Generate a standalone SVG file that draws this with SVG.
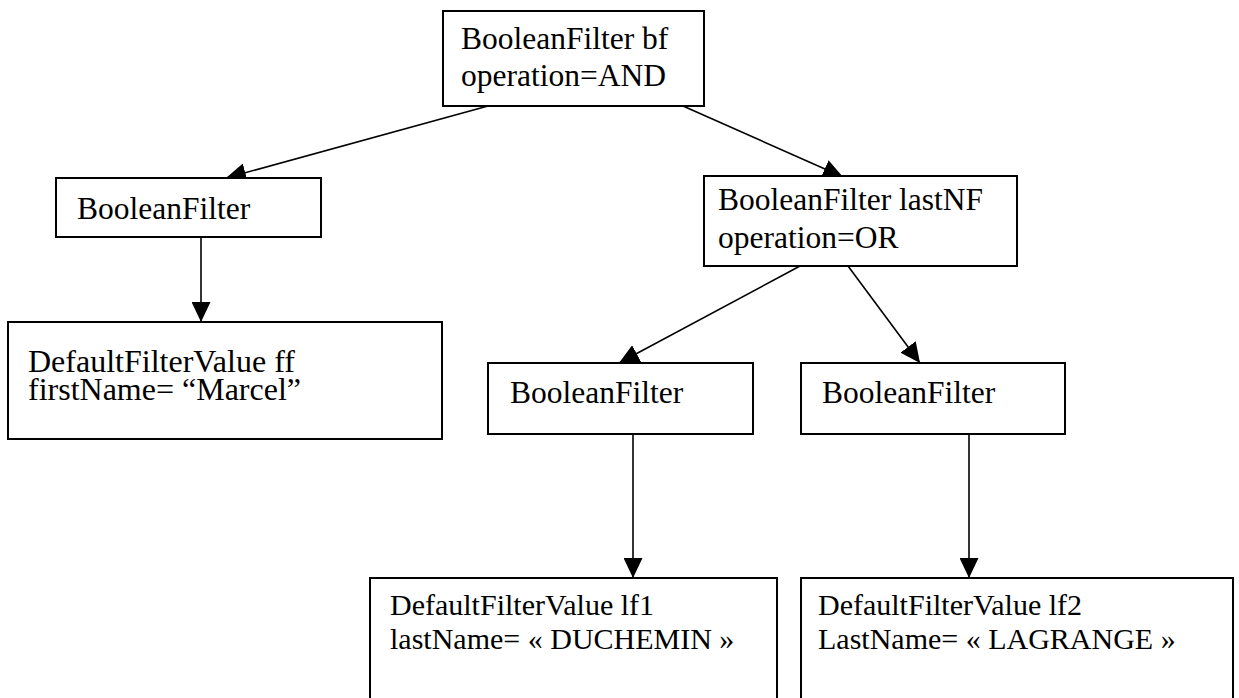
<svg xmlns="http://www.w3.org/2000/svg" width="1239" height="698" viewBox="0 0 1239 698">
  <style>
    .box { fill: #ffffff; stroke: #000000; stroke-width: 2; }
    .lbl { font-family: "Liberation Serif", "Times New Roman", serif; font-size: 31.5px; fill: #000000; }
    .big { font-size: 32px; }
    .small { font-size: 30px; }
    .edge { stroke: #000000; stroke-width: 1.6; fill: none; marker-end: url(#arrow); }
  </style>
  <defs>
    <marker id="arrow" markerUnits="userSpaceOnUse" markerWidth="20" markerHeight="19" refX="20" refY="9.5" orient="auto">
      <path d="M0,0 L20,9.5 L0,19 Z" fill="#000000"/>
    </marker>
  </defs>
  <rect width="1239" height="698" fill="#ffffff"/>

  <g id="connectors">
    <line class="edge" x1="488" y1="106" x2="226" y2="178"/>
    <line class="edge" x1="683" y1="106" x2="843" y2="177"/>
    <line class="edge" x1="201" y1="237" x2="201" y2="322"/>
    <line class="edge" x1="800" y1="266" x2="619" y2="363"/>
    <line class="edge" x1="848" y1="266" x2="920" y2="363"/>
    <line class="edge" x1="633" y1="434" x2="633" y2="578"/>
    <line class="edge" x1="969" y1="434" x2="969" y2="578"/>
  </g>

  <g id="bf">
    <rect class="box" x="443" y="11" width="261" height="95"/>
    <text class="lbl" x="461" y="49">BooleanFilter bf</text>
    <text class="lbl" x="461" y="86">operation=AND</text>
  </g>

  <g id="bf-left">
    <rect class="box" x="56" y="178" width="265" height="59"/>
    <text class="lbl" x="77" y="219">BooleanFilter</text>
  </g>

  <g id="lastNF">
    <rect class="box" x="704" y="176" width="313" height="90"/>
    <text class="lbl" x="718" y="210">BooleanFilter lastNF</text>
    <text class="lbl" x="718" y="248">operation=OR</text>
  </g>

  <g id="ff">
    <rect class="box" x="8" y="322" width="434" height="117"/>
    <text class="lbl big" x="28" y="372">DefaultFilterValue ff</text>
    <text class="lbl big" x="28" y="400">firstName= “Marcel”</text>
  </g>

  <g id="bf-mid">
    <rect class="box" x="488" y="363" width="265" height="71"/>
    <text class="lbl" x="510" y="403">BooleanFilter</text>
  </g>

  <g id="bf-right">
    <rect class="box" x="801" y="363" width="264" height="71"/>
    <text class="lbl" x="822" y="403">BooleanFilter</text>
  </g>

  <g id="lf1">
    <rect class="box" x="370" y="578" width="407" height="130"/>
    <text class="lbl small" x="390" y="615">DefaultFilterValue lf1</text>
    <text class="lbl small" x="390" y="649">lastName= « DUCHEMIN »</text>
  </g>

  <g id="lf2">
    <rect class="box" x="801" y="578" width="432" height="130"/>
    <text class="lbl small" x="818" y="615">DefaultFilterValue lf2</text>
    <text class="lbl small" x="818" y="649">LastName= « LAGRANGE »</text>
  </g>
</svg>
